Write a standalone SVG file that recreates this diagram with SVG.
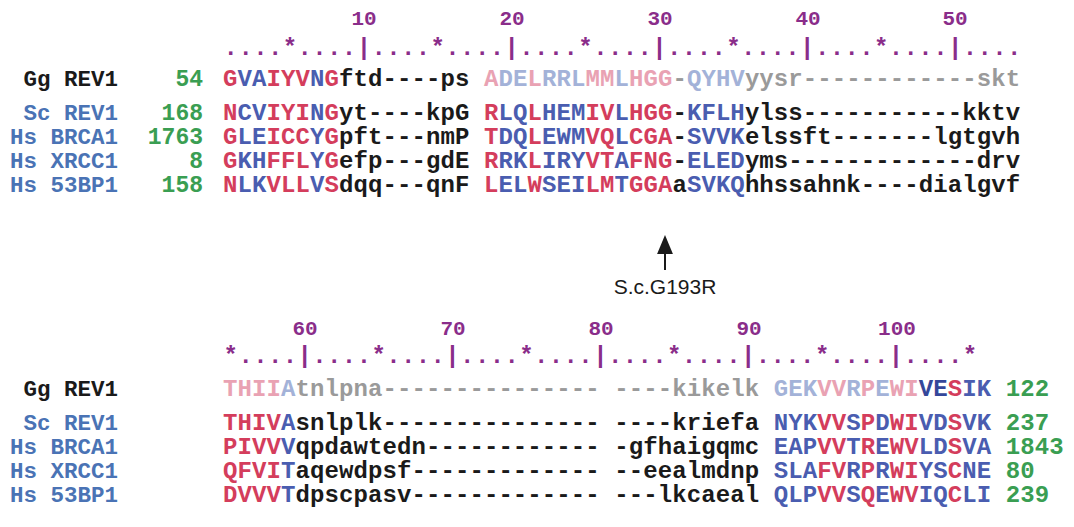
<svg xmlns="http://www.w3.org/2000/svg" width="1074" height="527" viewBox="0 0 1074 527">
  <style>
    text { font-family: "Liberation Mono", "Courier New", monospace; font-weight: bold; white-space: pre; }
    .seq { font-size: 24px; letter-spacing: 0.09px; }
    .rul { font-size: 24px; letter-spacing: 0.38px; fill: #8a2d8a; }
    .pos { font-size: 21px; fill: #8a2d8a; text-anchor: middle; }
    .name { font-size: 22.5px; text-anchor: end; }
    .num { font-size: 24px; fill: #3a9e52; }
    .lnum { font-size: 23px; text-anchor: end; }
    .gg { fill: #1a1a1a; }
    .sp { fill: #4a73b5; }
    .r { fill: #d43d5c; }
    .b { fill: #4a5db0; }
    .k { fill: #1a1a1a; }
    .fr { fill: #e9a2b3; }
    .fb { fill: #a3b2d8; }
    .g { fill: #9a9a9a; }
    .db { fill: #34479a; }
    .note { font-family: "Liberation Sans", Arial, sans-serif; font-weight: normal; font-size: 21px; fill: #1a1a1a; text-anchor: middle; }
  </style>
  <defs>
    <marker id="head" viewBox="0 0 12 10" refX="0" refY="5" markerWidth="9.5" markerHeight="8" markerUnits="strokeWidth" orient="auto">
      <path d="M0,0 L12,5 L0,10 z" fill="#1a1a1a"/>
    </marker>
  </defs>

  <!-- Block 1: alignment positions 1-54 -->
  <g id="block1">
    <g id="ruler1">
      <text class="pos" x="364" y="25">10</text>
      <text class="pos" x="512" y="25">20</text>
      <text class="pos" x="660" y="25">30</text>
      <text class="pos" x="808" y="25">40</text>
      <text class="pos" x="955" y="25">50</text>
      <text class="rul" x="223.6" y="55">....*....|....*....|....*....|....*....|....*....|....</text>
    </g>
    <g id="gg-rev1-a">
      <text class="name gg" x="118" y="86">Gg REV1</text>
      <text class="num lnum" x="203" y="86">54</text>
      <text class="seq" x="223" y="86"><tspan class="r">G</tspan><tspan class="b">VA</tspan><tspan class="r">IYV</tspan><tspan class="b">N</tspan><tspan class="r">G</tspan><tspan class="k">ftd----ps </tspan><tspan class="fr">A</tspan><tspan class="fb">DE</tspan><tspan class="fr">L</tspan><tspan class="fb">RRL</tspan><tspan class="fr">MM</tspan><tspan class="fb">L</tspan><tspan class="fr">HGG</tspan><tspan class="g">-</tspan><tspan class="fb">QYHV</tspan><tspan class="g">yysr------------skt</tspan></text>
    </g>
    <g id="sc-rev1-a">
      <text class="name sp" x="118" y="120">Sc REV1</text>
      <text class="num lnum" x="203" y="120">168</text>
      <text class="seq" x="223" y="120"><tspan class="r">N</tspan><tspan class="b">CV</tspan><tspan class="r">IYI</tspan><tspan class="b">N</tspan><tspan class="r">G</tspan><tspan class="k">yt----kpG </tspan><tspan class="r">R</tspan><tspan class="b">LQ</tspan><tspan class="r">L</tspan><tspan class="b">HEM</tspan><tspan class="r">IV</tspan><tspan class="b">L</tspan><tspan class="r">HGG</tspan><tspan class="k">-</tspan><tspan class="b">KFLH</tspan><tspan class="k">ylss-----------kktv</tspan></text>
    </g>
    <g id="hs-brca1-a">
      <text class="name sp" x="118" y="144">Hs BRCA1</text>
      <text class="num lnum" x="203" y="144">1763</text>
      <text class="seq" x="223" y="144"><tspan class="r">G</tspan><tspan class="b">LE</tspan><tspan class="r">ICC</tspan><tspan class="b">Y</tspan><tspan class="r">G</tspan><tspan class="k">pft---nmP </tspan><tspan class="r">T</tspan><tspan class="b">DQ</tspan><tspan class="r">L</tspan><tspan class="b">EWM</tspan><tspan class="r">VQ</tspan><tspan class="b">L</tspan><tspan class="r">CGA</tspan><tspan class="k">-</tspan><tspan class="b">SVVK</tspan><tspan class="k">elssft-------lgtgvh</tspan></text>
    </g>
    <g id="hs-xrcc1-a">
      <text class="name sp" x="118" y="168">Hs XRCC1</text>
      <text class="num lnum" x="203" y="168">8</text>
      <text class="seq" x="223" y="168"><tspan class="r">G</tspan><tspan class="b">KH</tspan><tspan class="r">FFL</tspan><tspan class="b">Y</tspan><tspan class="r">G</tspan><tspan class="k">efp---gdE </tspan><tspan class="r">R</tspan><tspan class="b">RK</tspan><tspan class="r">L</tspan><tspan class="b">IRY</tspan><tspan class="r">VT</tspan><tspan class="b">A</tspan><tspan class="r">FNG</tspan><tspan class="k">-</tspan><tspan class="b">ELED</tspan><tspan class="k">yms-------------drv</tspan></text>
    </g>
    <g id="hs-53bp1-a">
      <text class="name sp" x="118" y="192">Hs 53BP1</text>
      <text class="num lnum" x="203" y="192">158</text>
      <text class="seq" x="223" y="192"><tspan class="r">N</tspan><tspan class="b">LK</tspan><tspan class="r">VLL</tspan><tspan class="b">V</tspan><tspan class="r">S</tspan><tspan class="k">dqq---qnF </tspan><tspan class="r">L</tspan><tspan class="b">EL</tspan><tspan class="r">W</tspan><tspan class="b">SEI</tspan><tspan class="r">LM</tspan><tspan class="b">T</tspan><tspan class="r">GGA</tspan><tspan class="k">a</tspan><tspan class="b">SVKQ</tspan><tspan class="k">hhssahnk----dialgvf</tspan></text>
    </g>
  </g>

  <!-- Mutation marker under the G193 column -->
  <g id="connectors">
    <line x1="665" y1="270" x2="665" y2="254" stroke="#1a1a1a" stroke-width="2" marker-end="url(#head)"/>
  </g>
  <g id="mutation-label">
    <text class="note" x="665" y="294">S.c.G193R</text>
  </g>

  <!-- Block 2: alignment positions 55-105 -->
  <g id="block2">
    <g id="ruler2">
      <text class="pos" x="305" y="335">60</text>
      <text class="pos" x="453" y="335">70</text>
      <text class="pos" x="601" y="335">80</text>
      <text class="pos" x="749" y="335">90</text>
      <text class="pos" x="897" y="335">100</text>
      <text class="rul" x="223.6" y="363">*....|....*....|....*....|....*....|....*....|....*</text>
    </g>
    <g id="gg-rev1-b">
      <text class="name gg" x="118" y="396">Gg REV1</text>
      <text class="seq" x="223" y="396"><tspan class="fr">THII</tspan><tspan class="fb">A</tspan><tspan class="g">tnlpna--------------- ----kikelk </tspan><tspan class="fb">GEK</tspan><tspan class="fr">VV</tspan><tspan class="fb">R</tspan><tspan class="fr">P</tspan><tspan class="fb">E</tspan><tspan class="fr">WI</tspan><tspan class="db">VE</tspan><tspan class="r">S</tspan><tspan class="b">IK</tspan><tspan class="num"> 122</tspan></text>
    </g>
    <g id="sc-rev1-b">
      <text class="name sp" x="118" y="430">Sc REV1</text>
      <text class="seq" x="223" y="430"><tspan class="r">THIV</tspan><tspan class="b">A</tspan><tspan class="k">snlplk--------------- ----kriefa </tspan><tspan class="b">NYK</tspan><tspan class="r">VV</tspan><tspan class="b">S</tspan><tspan class="r">P</tspan><tspan class="b">D</tspan><tspan class="r">WI</tspan><tspan class="b">VD</tspan><tspan class="r">S</tspan><tspan class="b">VK</tspan><tspan class="num"> 237</tspan></text>
    </g>
    <g id="hs-brca1-b">
      <text class="name sp" x="118" y="454">Hs BRCA1</text>
      <text class="seq" x="223" y="454"><tspan class="r">PIVV</tspan><tspan class="b">V</tspan><tspan class="k">qpdawtedn------------ -gfhaigqmc </tspan><tspan class="b">EAP</tspan><tspan class="r">VV</tspan><tspan class="b">T</tspan><tspan class="r">R</tspan><tspan class="b">E</tspan><tspan class="r">WV</tspan><tspan class="b">LD</tspan><tspan class="r">S</tspan><tspan class="b">VA</tspan><tspan class="num"> 1843</tspan></text>
    </g>
    <g id="hs-xrcc1-b">
      <text class="name sp" x="118" y="478">Hs XRCC1</text>
      <text class="seq" x="223" y="478"><tspan class="r">QFVI</tspan><tspan class="b">T</tspan><tspan class="k">aqewdpsf------------- --eealmdnp </tspan><tspan class="b">SLA</tspan><tspan class="r">FV</tspan><tspan class="b">R</tspan><tspan class="r">P</tspan><tspan class="b">R</tspan><tspan class="r">WI</tspan><tspan class="b">YS</tspan><tspan class="r">C</tspan><tspan class="b">NE</tspan><tspan class="num"> 80</tspan></text>
    </g>
    <g id="hs-53bp1-b">
      <text class="name sp" x="118" y="502">Hs 53BP1</text>
      <text class="seq" x="223" y="502"><tspan class="r">DVVV</tspan><tspan class="b">T</tspan><tspan class="k">dpscpasv------------- ---lkcaeal </tspan><tspan class="b">QLP</tspan><tspan class="r">VV</tspan><tspan class="b">S</tspan><tspan class="r">Q</tspan><tspan class="b">E</tspan><tspan class="r">WV</tspan><tspan class="b">IQ</tspan><tspan class="r">C</tspan><tspan class="b">LI</tspan><tspan class="num"> 239</tspan></text>
    </g>
  </g>
</svg>
